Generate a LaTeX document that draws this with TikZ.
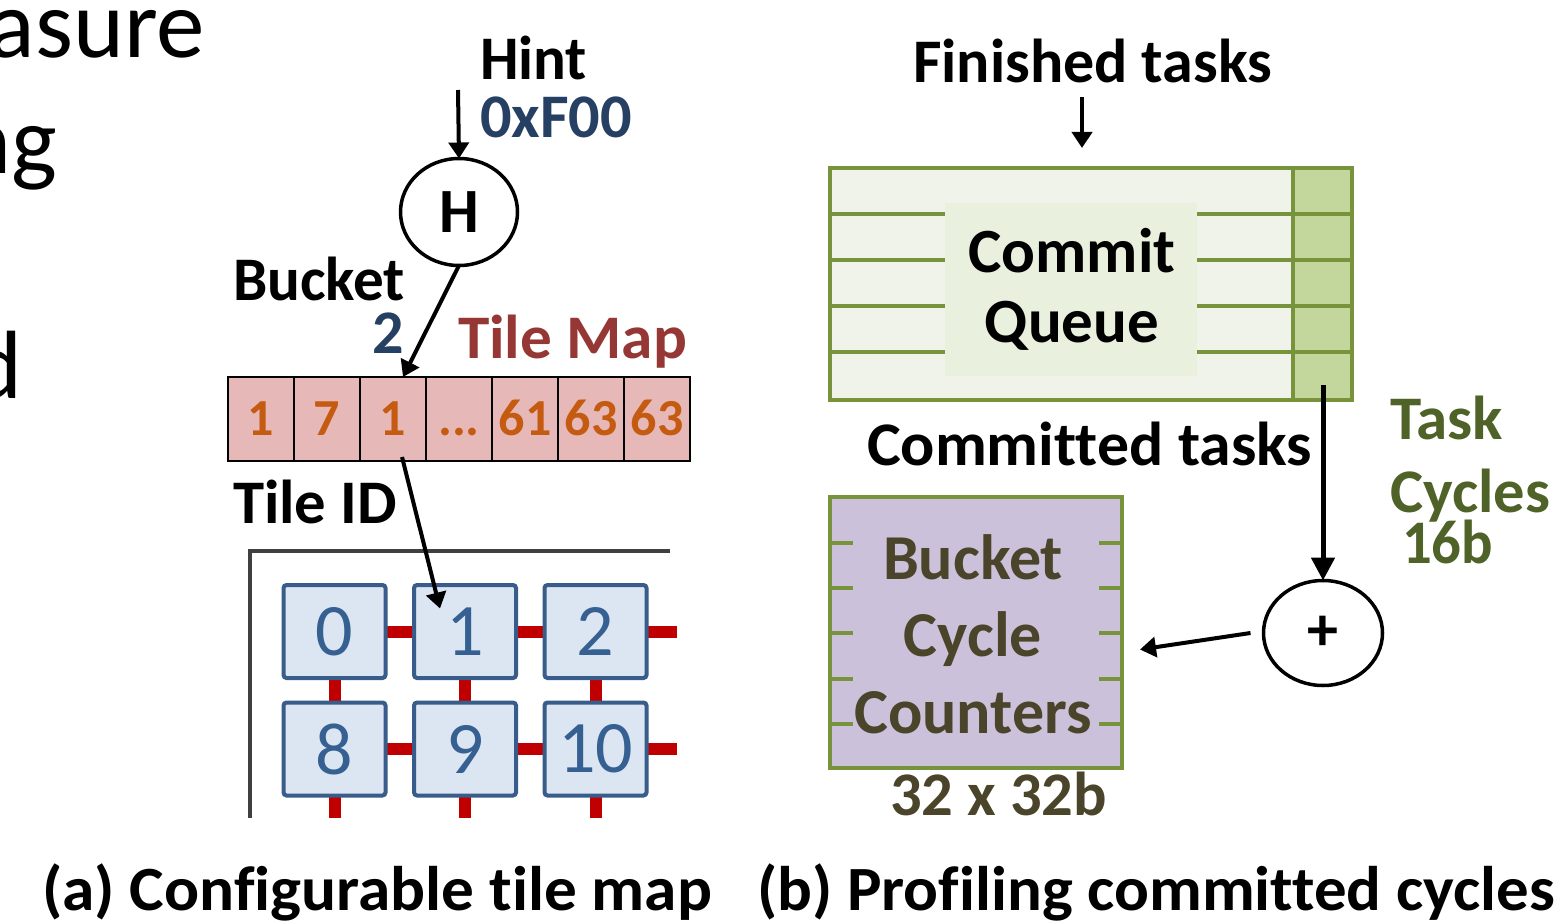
\documentclass[tikz,border=0pt]{standalone}
\usepackage{fontspec}
\setmainfont{Carlito}[Ligatures=NoCommon]
\usetikzlibrary{arrows.meta,shapes.geometric,calc}

\definecolor{hintblue}{RGB}{38,64,100}
\definecolor{mapred}{RGB}{149,55,53}
\definecolor{maporange}{RGB}{197,90,17}
\definecolor{mappink}{RGB}{230,184,183}
\definecolor{tilefill}{RGB}{220,230,242}
\definecolor{tileedge}{RGB}{56,93,138}
\definecolor{tiletext}{RGB}{54,96,146}
\definecolor{linkred}{RGB}{192,0,0}
\definecolor{meshgray}{RGB}{64,64,64}
\definecolor{olive}{RGB}{119,147,60}
\definecolor{cqfill}{RGB}{239,243,233}
\definecolor{cqlabel}{RGB}{233,240,222}
\definecolor{cqcol}{RGB}{195,214,155}
\definecolor{cycgreen}{RGB}{79,98,40}
\definecolor{lavender}{RGB}{204,193,218}
\definecolor{cntbrown}{RGB}{74,69,42}

\newcommand\fsz[2]{\fontsize{#1pt}{#2pt}\selectfont}
\newcommand\fixw[2]{\resizebox{#1pt}{\height}{#2}}

\begin{document}
\begin{tikzpicture}[x=1pt,y=-1pt,
  every node/.style={inner sep=0pt,outer sep=0pt},
  lbl/.style={font=\bfseries\fsz{62}{72},anchor=base west},
  arr/.style={line width=4pt,-{Triangle[length=16pt,width=20pt]}},
  bigarr/.style={line width=5pt,-{Triangle[length=23pt,width=23pt]}},
  mapcell/.style={draw=black,line width=2pt,fill=mappink,minimum width=66pt,
    minimum height=84pt,text height=33pt,text depth=0pt,
    font=\bfseries\fsz{52}{60},text=maporange},
  tile/.style={draw=tileedge,fill=tilefill,line width=4pt,rounded corners=3pt,
    minimum width=102pt,minimum height=93pt,font=\fsz{74}{80},text=tiletext},
  link/.style={draw=linkred,line width=12pt},
  oliveline/.style={draw=olive,line width=4pt},
  adder/.style={ellipse,draw=black,line width=3.5pt,fill=white},
]
\clip (0,0) rectangle (1561,923);
\fill[white] (0,0) rectangle (1561,923);

% ---- slide text running in from the left ----
\node[anchor=base east,font=\fsz{97}{113}] (sl1) at (205,58) {asure};
\node[anchor=base east,font=\fsz{97}{113}] (sl2) at (57,173) {ng};
\node[anchor=base east,font=\fsz{97}{113}] (sl3) at (22,398) {d};

% ================= (a) configurable tile map =================
\node[lbl] (hint) at (480,80) {\fixw{107}{Hint}};
\node[lbl,text=hintblue] (hintval) at (480,138) {\fixw{152}{0xF00}};
\node[adder,minimum width=117pt,minimum height=107pt,font=\bfseries\fsz{63}{72}] (H) at (459,212) {H};
\coordinate (hintin) at (458,90);
\draw[arr] (hintin) -- (H.north);

\node[lbl] (bucket) at (233,300) {\fixw{172}{Bucket}};
\node[lbl,text=hintblue] (bucketval) at (372,353) {2};
\node[lbl,text=mapred] (tilemap) at (458,358) {\fixw{229}{Tile Map}};

% tile map entries
\node[mapcell] (c1) at (261,419) {1};
\node[mapcell] (c2) at (327,419) {7};
\node[mapcell] (c3) at (393,419) {1};
\node[mapcell] (c4) at (459,419) {...};
\node[mapcell] (c5) at (525,419) {61};
\node[mapcell] (c6) at (591,419) {63};
\node[mapcell] (c7) at (657,419) {63};

\draw[arr] (H.south) -- ([xshift=10pt]c3.north);

\node[lbl] (tileid) at (233,523) {\fixw{164}{Tile ID}};

% mesh corner
\draw[meshgray,line width=4pt] (670,551) -- (250,551) -- (250,818);

% mesh tiles and their links
\coordinate (t0) at (334.5,631.5);
\coordinate (t1) at (465,631.5);
\coordinate (t2) at (595.5,631.5);
\coordinate (t8) at (334.5,749);
\coordinate (t9) at (465,749);
\coordinate (t10) at (595.5,749);
\draw[link] (t0) -- (t2) -- (677,631.5);
\draw[link] (t8) -- (t10) -- (677,749);
\draw[link] (t0) -- (334.5,818);
\draw[link] (t1) -- (465,818);
\draw[link] (t2) -- (595.5,818);
\node[tile] (n0) at (t0) {0};
\node[tile] (n1) at (t1) {1};
\node[tile] (n2) at (t2) {2};
\node[tile] (n8) at (t8) {8};
\node[tile] (n9) at (t9) {9};
\node[tile] (n10) at (t10) {10};

\draw[arr] ([xshift=9pt,yshift=4pt]c3.south) -- ([xshift=-25pt,yshift=23pt]n1.center);

\node[anchor=base west,font=\bfseries\fsz{63}{70}] (capa) at (42,910) {\fixw{670}{(a) Configurable tile map}};

% ================= (b) profiling committed cycles =================
\node[lbl] (finished) at (913,83) {\fixw{359}{Finished tasks}};
\coordinate (finin) at (1082,97);
\draw[arr] (finin) -- ++(0,51);

% commit queue
\node[fill=cqfill,minimum width=522pt,minimum height=232pt] (cq) at (1091,284) {};
\fill[cqcol] (1293,168) rectangle (1352,400);
\foreach \yy in {214,260,306,352}
  \draw[oliveline] (830,\yy) -- (1352,\yy);
\node[fill=cqlabel,minimum width=252pt,minimum height=173pt] (cqlbl) at (1071,289.5) {};
\node[font=\bfseries\fsz{63}{70},align=center,anchor=base] (cqtext) at (1072,342) {Commit\\Queue};
\draw[oliveline] (1293,168) -- (1293,400);
\draw[oliveline] (cq.north west) rectangle (cq.south east);

\node[lbl] (committed) at (867,465) {\fixw{445}{Committed tasks}};

% adder
\node[adder,minimum width=119pt,minimum height=105pt,font=\bfseries\fsz{62}{70}] (plus) at (1323,633) {+};
\coordinate (colout) at (1323,385);
\draw[bigarr] (colout) -- (plus.north);

\node[lbl,text=cycgreen] (task) at (1390,439) {\fixw{113}{Task}};
\node[lbl,text=cycgreen] (cycles) at (1390,512) {\fixw{160}{Cycles}};
\node[lbl,text=cycgreen] (width16) at (1402,563) {\fixw{91}{16b}};

% bucket cycle counters
\node[fill=lavender,minimum width=292pt,minimum height=271pt] (bcc) at (976,632.5) {};
\foreach \yy in {543,588,633,679,724} {
  \draw[oliveline] (830,\yy) -- (853,\yy);
  \draw[oliveline] (1099,\yy) -- (1122,\yy);
}
\draw[oliveline] (bcc.north west) rectangle (bcc.south east);
\node[font=\bfseries\fsz{64}{77},align=center,anchor=base,text=cntbrown] (bcctext) at (973,733) {Bucket\\Cycle\\Counters};
\node[lbl,text=cntbrown] (size) at (890,815) {\fixw{217}{32 x 32b}};

\draw[arr] ([xshift=-13pt]plus.west) -- ([xshift=18pt,yshift=-17pt]bcc.east);

\node[anchor=base west,font=\bfseries\fsz{63}{70}] (capb) at (757,910) {\fixw{798}{(b) Profiling committed cycles}};
\end{tikzpicture}
\end{document}
